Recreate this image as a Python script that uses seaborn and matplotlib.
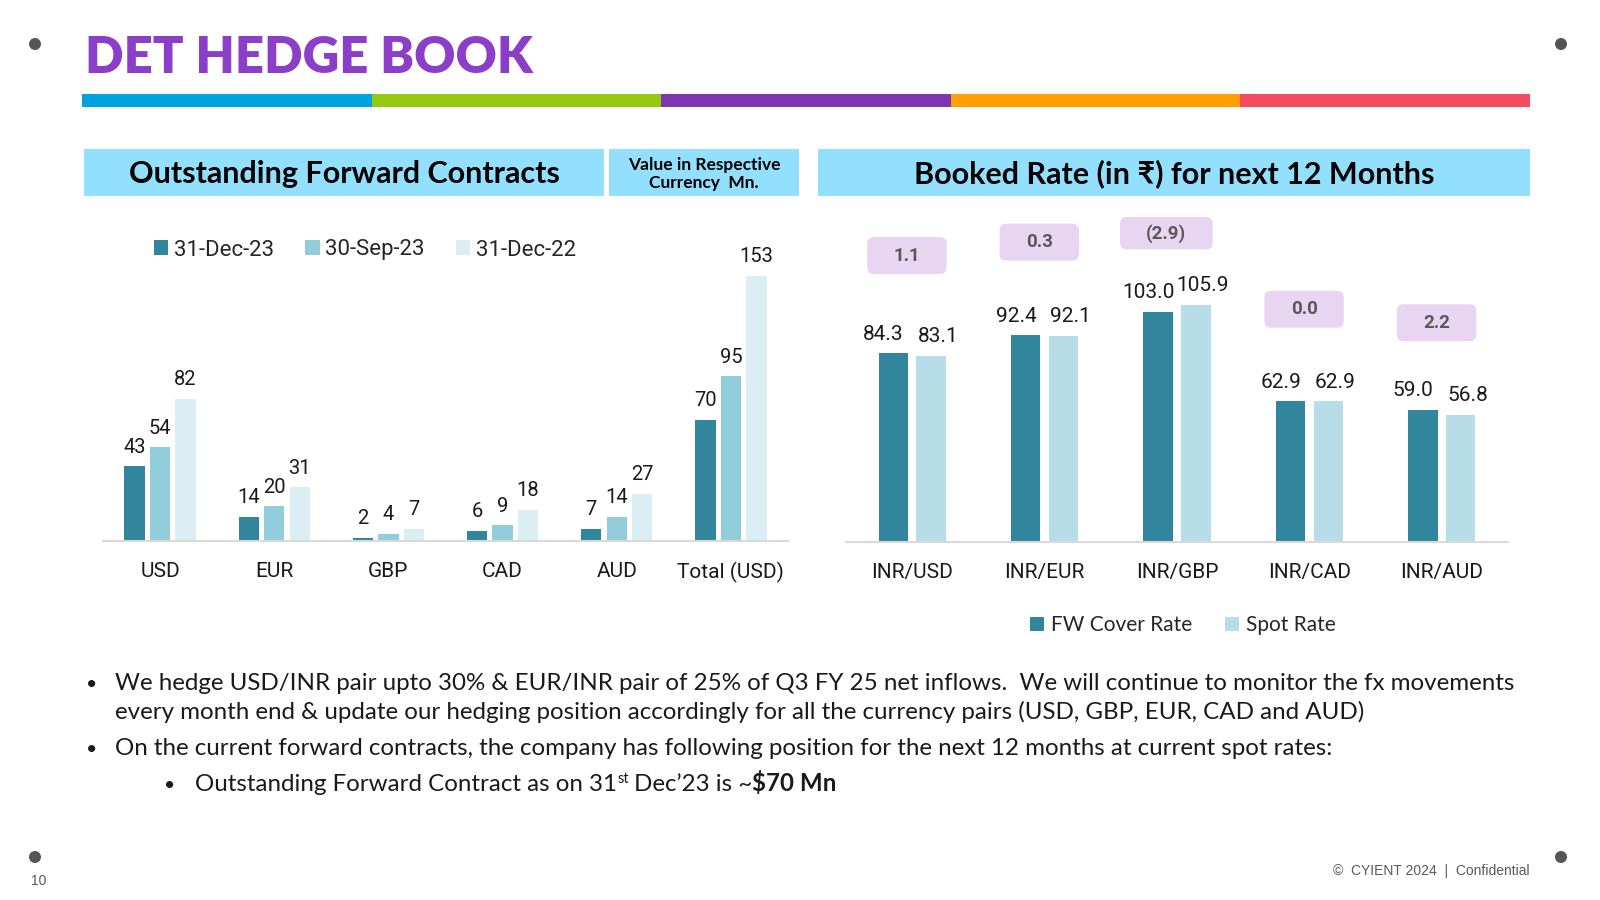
import matplotlib
matplotlib.use("Agg")
import matplotlib.pyplot as plt
import seaborn as sns
import pandas as pd
from matplotlib.patches import Patch, FancyBboxPatch, Rectangle, Ellipse

# ---- data ----
currencies = ["USD", "EUR", "GBP", "CAD", "AUD", "Total (USD)"]
periods = ["31-Dec-23", "30-Sep-23", "31-Dec-22"]
dec23 = [43, 14, 2, 6, 7, 70]
sep23 = [54, 20, 4, 9, 14, 95]
dec22 = [82, 31, 7, 18, 27, 153]

pairs = ["INR/USD", "INR/EUR", "INR/GBP", "INR/CAD", "INR/AUD"]
rate_names = ["FW Cover Rate", "Spot Rate"]
fw_rate = [84.3, 92.4, 103.0, 62.9, 59.0]
spot_rate = [83.1, 92.1, 105.9, 62.9, 56.8]
rate_diff = ["1.1", "0.3", "(2.9)", "0.0", "2.2"]

# ---- style ----
sns.set_style("white")
plt.rcParams["font.family"] = ["Lato", "DejaVu Sans"]
NARROW = ["Liberation Sans Narrow", "Roboto", "DejaVu Sans"]
W, H = 1600, 900
left_cols = ["#31859C", "#92CDDC", "#DAEEF3"]
right_cols = ["#31859C", "#B7DEE8"]
hdr_col = "#92E0FD"
txt_col = "#1A1A1A"

fig = plt.figure(figsize=(16, 9), dpi=100)


def fx(px):
    return px / W


def fy(py):
    return 1 - py / H


# title + colour stripe
fig.text(fx(85), fy(58), "DET HEDGE BOOK", fontsize=36.5, fontweight="heavy",
         color="#8B3FC8", va="center", ha="left")
stripe = ["#00A3E0", "#93C90E", "#7E35B0", "#FFA000", "#F54B5E"]
seg = (1530 - 82) / 5
for i, c in enumerate(stripe):
    fig.patches.append(Rectangle((fx(82 + i * seg), fy(107)), fx(seg), 13 / H,
                                 transform=fig.transFigure, color=c, lw=0))

# corner dots
for (px, py) in [(35, 44), (1561, 44), (35, 857), (1561, 857)]:
    fig.patches.append(Ellipse((fx(px), fy(py)), 12 / W, 12 / H,
                               transform=fig.transFigure, color="#555555", lw=0))

# header boxes
for x0, x1, txt, fs in [(84, 604, "Outstanding Forward Contracts", 22),
                        (609, 799, "Value in Respective\nCurrency  Mn.", 12.5),
                        (818, 1530, "Booked Rate (in \u20b9) for next 12 Months", 22)]:
    fig.patches.append(Rectangle((fx(x0), fy(196)), fx(x1 - x0), 47 / H,
                                 transform=fig.transFigure, color=hdr_col, lw=0))
    fig.text(fx((x0 + x1) / 2), fy(174), txt, fontsize=fs, fontweight="bold",
             ha="center", va="center", color="black", linespacing=1.1,
             family=["Lato", "DejaVu Sans"])

# ---- left chart ----
df_left = pd.DataFrame({
    "currency": currencies * 3,
    "period": [periods[0]] * 6 + [periods[1]] * 6 + [periods[2]] * 6,
    "value": dec23 + sep23 + dec22,
})
ax1 = fig.add_axes([fx(103), fy(541), fx(685), 300 / H])
ax1.patch.set_alpha(0)
sns.barplot(data=df_left, x="currency", y="value", hue="period", palette=left_cols,
            width=0.67, gap=0.2, linewidth=0, saturation=1, ax=ax1, legend=False)
ax1.set_ylim(0, 173)
ax1.set_xlim(-0.5, 5.5)
for cont in ax1.containers:
    ax1.bar_label(cont, fmt="%.0f", padding=7, fontsize=14.5, color=txt_col, family=NARROW)
ax1.set_xlabel("")
ax1.set_ylabel("")
ax1.set_yticks([])
ax1.tick_params(axis="x", length=0, pad=15, labelsize=15, labelcolor=txt_col)
for lab in ax1.get_xticklabels():
    lab.set_family(NARROW)
for s in ["top", "left", "right"]:
    ax1.spines[s].set_visible(False)
ax1.spines["bottom"].set_color("#D9D9D9")
ax1.spines["bottom"].set_linewidth(1.5)

h1 = [Patch(facecolor=c, edgecolor="none") for c in left_cols]
fig.legend(h1, periods, loc="center", bbox_to_anchor=(fx(365), fy(250)), ncol=3,
           frameon=False, handlelength=0.65, handleheight=0.65, handletextpad=0.25,
           columnspacing=1.4, prop={"family": NARROW, "size": 16})

# ---- right chart ----
df_right = pd.DataFrame({
    "pair": pairs * 2,
    "kind": [rate_names[0]] * 5 + [rate_names[1]] * 5,
    "rate": fw_rate + spot_rate,
})
ax2 = fig.add_axes([fx(846), fy(542), fx(662), 350 / H])
ax2.patch.set_alpha(0)
sns.barplot(data=df_right, x="pair", y="rate", hue="kind", palette=right_cols,
            width=0.57, gap=0.22, linewidth=0, saturation=1, ax=ax2, legend=False)
ax2.set_ylim(0, 156.4)
ax2.set_xlim(-0.5, 4.5)
for k, cont in enumerate(ax2.containers):
    labs = ax2.bar_label(cont, fmt="%.1f", padding=7, fontsize=15, color=txt_col, family=NARROW)
    # spread each pair's labels apart a little, as in the slide
    for t in labs:
        t.xyann = ((-7, 7) if k == 0 else (5, 7))
ax2.set_xlabel("")
ax2.set_ylabel("")
ax2.set_yticks([])
ax2.tick_params(axis="x", length=0, pad=15, labelsize=15, labelcolor=txt_col)
for lab in ax2.get_xticklabels():
    lab.set_family(NARROW)
for s in ["top", "left", "right"]:
    ax2.spines[s].set_visible(False)
ax2.spines["bottom"].set_color("#D9D9D9")
ax2.spines["bottom"].set_linewidth(1.5)

# difference badges above each pair
badge_y = [128, 134, 138, 104, 98]
yscale = (662 / 5) / (350 / 156.4)
for i, (lbl, by) in enumerate(zip(rate_diff, badge_y)):
    bw = 0.45 + 0.05 * len(lbl)
    bh = 16.5 if len(lbl) < 4 else 14.5
    cx = i - 0.04 - (0.04 if len(lbl) > 3 else 0)
    box = FancyBboxPatch((cx - bw / 2, by - bh / 2), bw, bh,
                         boxstyle="round,pad=0,rounding_size=0.05",
                         mutation_aspect=yscale, facecolor="#E7D5F2",
                         edgecolor="none", clip_on=False)
    ax2.add_patch(box)
    ax2.text(cx, by, lbl, ha="center", va="center", fontsize=13.5, fontweight="bold",
             color="#595959", family=NARROW, clip_on=False)

h2 = [Patch(facecolor=c, edgecolor="none") for c in right_cols]
fig.legend(h2, rate_names, loc="center", bbox_to_anchor=(fx(1183), fy(625)), ncol=2,
           frameon=False, handlelength=0.65, handleheight=0.65, handletextpad=0.35,
           columnspacing=1.6, prop={"size": 15})

# ---- bullet text ----
renderer = fig.canvas.get_renderer()
BFS = 17.4


def run_text(x, y, parts):
    for s, size, weight, dy, gap in parts:
        x += gap
        t = fig.text(fx(x), fy(y - dy), s, fontsize=size, fontweight=weight,
                     color=txt_col, va="baseline", ha="left")
        x = t.get_window_extent(renderer=renderer).x1


for bx, tx, y, s in [(86, 115, 690, "We hedge USD/INR pair upto 30% & EUR/INR pair of 25% of Q3 FY 25 net inflows.  We will continue to monitor the fx movements"),
                     (None, 115, 719, "every month end & update our hedging position accordingly for all the currency pairs (USD, GBP, EUR, CAD and AUD)"),
                     (86, 115, 755, "On the current forward contracts, the company has following position for the next 12 months at current spot rates:")]:
    if bx is not None:
        fig.text(fx(bx), fy(y), "\u2022", fontsize=14, color=txt_col, va="baseline")
    fig.text(fx(tx), fy(y), s, fontsize=BFS, color=txt_col, va="baseline")

fig.text(fx(164), fy(791), "\u2022", fontsize=14, color=txt_col, va="baseline")
run_text(195, 791, [
    ("Outstanding Forward Contract as on 31", BFS, "normal", 0, 0),
    ("st", 10.5, "normal", 8, 0.5),
    ("Dec\u201923 is ~", BFS, "normal", 0, 5),
    ("$70 Mn", BFS, "bold", 0, 0),
])

# footer
fig.text(fx(31), fy(881), "10", fontsize=10, color="#595959", va="center",
         family=["Liberation Sans", "DejaVu Sans"])
fig.text(fx(1530), fy(871), "\u00a9  CYIENT 2024  |  Confidential", fontsize=10,
         color="#595959", va="center", ha="right", family=["Liberation Sans", "DejaVu Sans"])

fig.savefig("out.png", dpi=100)
